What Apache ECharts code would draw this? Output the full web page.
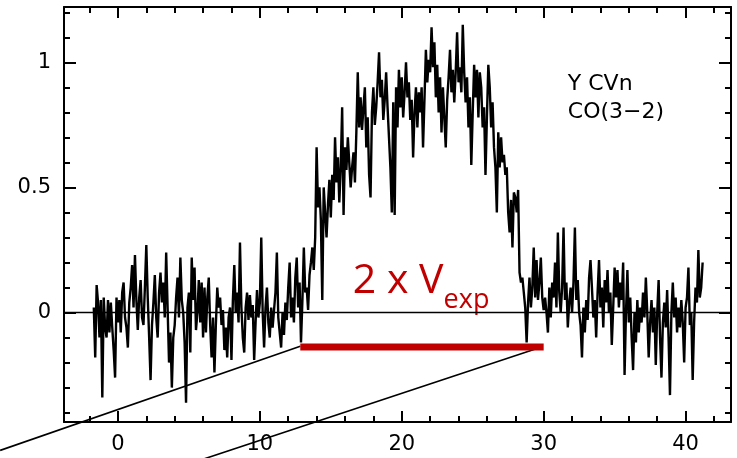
<!DOCTYPE html>
<html>
<head>
<meta charset="utf-8">
<script src="https://cdn.jsdelivr.net/npm/echarts@6/dist/echarts.min.js"></script>
<style>
  html, body { margin: 0; padding: 0; background: #ffffff; }
  #chart { width: 737px; height: 458px; }
</style>
</head>
<body>
<div id="chart"></div>
<script>
// Spectrum, channel width 0.1 km/s, split into velocity segments
const CHANNEL = 0.1;

// blue baseline, -1.7 .. 5.0 km/s
const blueBaseStart = -1.7;
const blueBase = [
  0.02, -0.18, 0.11, 0.04, -0.10, 0.05, -0.34, 0.06, -0.06, -0.10,
  0.05, -0.08, 0.04, -0.06, -0.15, -0.26, 0.06, -0.04, 0.05, -0.08,
  0.08, 0.12, -0.02, -0.06, -0.14, 0.04, 0.10, 0.19, 0.02, 0.23,
  0.05, -0.07, 0.06, 0.13, -0.02, -0.05, 0.10, 0.27, 0.06, -0.10,
  -0.27, -0.05, 0.04, 0.15, -0.02, -0.10, 0.08, 0.16, 0.04, 0.12,
  -0.02, 0.24, 0.02, -0.20, -0.08, -0.30, -0.10, -0.05, 0.06, 0.14,
  -0.02, 0.22, 0.05, 0.00, -0.12, -0.36, 0.02, 0.08
];
// blue baseline, 5.1 .. 12.5 km/s
const blueNearStart = 5.1;
const blueNear = [
  -0.16, 0.22, 0.05, 0.18, -0.07, 0.00, 0.13, -0.04, 0.12, -0.10,
  0.10, -0.08, 0.06, 0.14, -0.05, -0.18, -0.02, -0.24, -0.05, 0.10,
  0.02, 0.06, -0.05, 0.01, -0.15, -0.06, -0.18, -0.02, 0.02, -0.19,
  0.05, 0.19, 0.00, 0.08, -0.04, 0.28, 0.02, -0.10, -0.16, 0.02,
  0.08, -0.03, 0.07, -0.02, 0.03, -0.19, -0.04, 0.09, -0.02, 0.04,
  0.30, 0.00, -0.14, 0.02, 0.10, -0.04, -0.10, 0.02, -0.06, 0.01,
  0.08, 0.24, -0.02, -0.08, -0.14, 0.00, -0.09, 0.04, -0.03, 0.10,
  0.20, -0.02, 0.06, -0.04, 0.14
];
// rising line wing, 12.6 .. 19.4 km/s
const riseStart = 12.6;
const rise = [
  0.22, 0.02, 0.12, -0.12, 0.05, 0.26, 0.08, 0.10, 0.01, 0.15,
  0.20, 0.26, 0.17, 0.30, 0.66, 0.42, 0.50, 0.37, 0.05, 0.50,
  0.40, 0.30, 0.43, 0.53, 0.38, 0.55, 0.45, 0.70, 0.52, 0.62,
  0.44, 0.58, 0.82, 0.39, 0.66, 0.57, 0.70, 0.60, 0.50, 0.58,
  0.64, 0.52, 0.72, 0.96, 0.74, 0.86, 0.73, 0.82, 0.90, 0.66,
  0.78, 0.55, 0.46, 0.80, 0.90, 0.75, 0.82, 0.92, 1.04, 0.86,
  0.93, 0.77, 0.85, 0.96, 0.82, 0.70, 0.58, 0.40, 0.84
];
// line core, 19.5 .. 26.6 km/s
const coreStart = 19.5;
const core = [
  0.39, 0.90, 0.74, 0.97, 0.82, 0.94, 0.78, 0.88, 1.00, 0.86,
  0.92, 0.77, 0.85, 0.62, 0.80, 0.90, 0.74, 0.88, 0.80, 0.90,
  0.66, 0.85, 1.05, 0.92, 1.01, 0.96, 1.14, 0.98, 1.08, 0.86,
  0.99, 0.80, 0.94, 0.72, 0.90, 0.78, 0.66, 0.85, 0.94, 1.05,
  0.88, 0.97, 0.84, 0.96, 1.12, 0.92, 0.98, 0.88, 1.15, 0.96,
  0.84, 0.94, 0.74, 0.86, 0.59, 0.80, 0.99, 0.86, 0.97, 0.78,
  0.96, 0.90, 0.74, 0.82, 0.55, 0.78, 0.99, 0.90, 0.74, 0.84,
  0.66, 0.58
];
// falling wing and red baseline, 26.7 .. 33.4 km/s
const fallStart = 26.7;
const fall = [
  0.40, 0.72, 0.58, 0.70, 0.60, 0.63, 0.55, 0.58, 0.40, 0.32,
  0.45, 0.26, 0.48, 0.46, 0.40, 0.49, 0.16, 0.12, 0.14, 0.08,
  0.02, -0.12, 0.04, 0.14, 0.02, 0.10, 0.26, 0.06, 0.21, 0.05,
  0.12, 0.22, 0.06, 0.01, 0.06, 0.00, -0.08, 0.10, -0.02, 0.12,
  0.06, 0.20, 0.02, 0.32, 0.08, 0.00, 0.10, 0.34, 0.05, 0.12,
  -0.06, 0.04, 0.10, 0.00, 0.12, 0.34, 0.05, 0.13, 0.00, -0.05,
  -0.18, 0.02, -0.08, 0.05, -0.03, 0.14, 0.21, 0.10
];
// red baseline, 33.5 .. 41.2 km/s
const redBaseStart = 33.5;
const redBase = [
  -0.02, 0.05, -0.10, 0.08, 0.21, 0.02, 0.10, -0.06, 0.13, 0.04,
  0.17, 0.00, 0.08, -0.13, 0.02, 0.18, 0.06, 0.17, 0.02, 0.12,
  0.05, 0.20, -0.25, 0.00, 0.17, -0.04, 0.06, -0.10, -0.23, 0.00,
  -0.12, 0.05, -0.08, 0.02, -0.04, 0.08, -0.02, 0.14, 0.00, -0.18,
  -0.04, 0.05, -0.08, 0.02, -0.21, 0.00, 0.13, -0.10, -0.26, -0.04,
  0.04, -0.06, 0.09, -0.10, -0.33, 0.00, 0.12, -0.02, 0.06, -0.08,
  0.02, -0.06, 0.05, -0.04, -0.20, 0.02, 0.06, 0.18, -0.05, 0.00,
  -0.27, -0.04, 0.10, 0.04, 0.25, 0.06, 0.10, 0.20
];

// Axis extents and tick positions
const X_MIN = -3.8, X_MAX = 43.2;
const Y_MIN = -0.4375, Y_MAX = 1.221;
const xMajorTicks = [0, 10, 20, 30, 40];
const xMinorTicks = [-2, 2, 4, 6, 8, 12, 14, 16, 18, 22, 24, 26, 28, 32, 34, 36, 38, 42];
const yMajorTicks = [0, 0.5, 1];
const yMinorTicks = [-0.4, -0.3, -0.2, -0.1, 0.1, 0.2, 0.3, 0.4, 0.6, 0.7, 0.8, 0.9, 1.1, 1.2];

// Full-width (2 x Vexp) bar and the two guide lines running to its ends
const expansionBar = [[12.85, -0.1376], [30.0, -0.1376]];
const guideLeft = [[-8.3, -0.551], [12.85, -0.135]];
const guideRight = [[5.0, -0.605], [29.58, -0.143]];

// Source / transition annotation
const sourceLines = ['Y CVn', 'CO(3\u22122)'];

function toPoints(start, values) {
  return values.map((t, i) => [+(start + i * CHANNEL).toFixed(2), t]);
}
const spectrum = [].concat(
  toPoints(blueBaseStart, blueBase),
  toPoints(blueNearStart, blueNear),
  toPoints(riseStart, rise),
  toPoints(coreStart, core),
  toPoints(fallStart, fall),
  toPoints(redBaseStart, redBase)
);

const AXIS_FONT = { fontFamily: 'DejaVu Sans', fontSize: 21, color: '#000' };

function xAxisDef(position, ticks, len, withLine, withLabels) {
  return {
    type: 'value', min: X_MIN, max: X_MAX, position: position,
    axisLine: { show: withLine, onZero: false, lineStyle: { color: '#000', width: 2 } },
    axisTick: { show: true, inside: true, length: len, customValues: ticks,
                lineStyle: { color: '#000', width: 2 } },
    axisLabel: withLabels
      ? Object.assign({ show: true, margin: 12, customValues: ticks }, AXIS_FONT)
      : { show: false },
    splitLine: { show: false }
  };
}
function yAxisDef(position, ticks, len, withLine, withLabels) {
  return {
    type: 'value', min: Y_MIN, max: Y_MAX, position: position,
    axisLine: { show: withLine, onZero: false, lineStyle: { color: '#000', width: 2 } },
    axisTick: { show: true, inside: true, length: len, customValues: ticks,
                lineStyle: { color: '#000', width: 2 } },
    axisLabel: withLabels
      ? Object.assign({ show: true, margin: 13, customValues: ticks,
                        formatter: v => String(+v.toFixed(2)) }, AXIS_FONT)
      : { show: false },
    splitLine: { show: false }
  };
}

const chart = echarts.init(document.getElementById('chart'), null, { renderer: 'canvas' });

chart.setOption({
  animation: false,
  backgroundColor: '#ffffff',
  grid: { left: 64, right: 6, top: 7, bottom: 36, containLabel: false, outerBoundsMode: 'none' },
  xAxis: [
    xAxisDef('bottom', xMajorTicks, 11, true, true),
    xAxisDef('bottom', xMinorTicks, 6, false, false),
    xAxisDef('top', xMajorTicks, 11, true, false),
    xAxisDef('top', xMinorTicks, 6, false, false)
  ],
  yAxis: [
    yAxisDef('left', yMajorTicks, 12, true, true),
    yAxisDef('left', yMinorTicks, 6, false, false),
    yAxisDef('right', yMajorTicks, 12, true, false),
    yAxisDef('right', yMinorTicks, 6, false, false)
  ],
  series: [
    {
      name: 'zero', type: 'line', data: [[X_MIN, 0], [X_MAX, 0]],
      symbol: 'none', silent: true,
      lineStyle: { color: '#000', width: 1.5 }
    },
    {
      name: 'spectrum', type: 'line', data: spectrum,
      symbol: 'none', silent: true,
      lineStyle: { color: '#000', width: 2.4, join: 'bevel' }
    },
    {
      name: 'expansion', type: 'line', data: expansionBar,
      symbol: 'none', silent: true, z: 4,
      lineStyle: { color: '#c00000', width: 7, cap: 'butt' }
    }
  ]
});

// Guide lines and text placed through the grid's data-to-pixel mapping
function px(pt) { return chart.convertToPixel({ gridIndex: 0 }, pt); }
const pSrc1 = px([31.7, 0.913]);
const pSrc2 = px([31.7, 0.799]);
const pMain = px([16.55, 0.125]);
const pSub = px([22.95, 0.049]);

chart.setOption({
  graphic: [
    { type: 'polyline', silent: true, z: 3,
      shape: { points: guideLeft.map(px) },
      style: { stroke: '#000', lineWidth: 1.6, fill: null } },
    { type: 'polyline', silent: true, z: 3,
      shape: { points: guideRight.map(px) },
      style: { stroke: '#000', lineWidth: 1.6, fill: null } },
    { type: 'text', x: pSrc1[0], y: pSrc1[1], silent: true,
      style: { text: sourceLines[0], fill: '#000', font: '22px "DejaVu Sans"',
               align: 'left', verticalAlign: 'middle' } },
    { type: 'text', x: pSrc2[0], y: pSrc2[1], silent: true,
      style: { text: sourceLines[1], fill: '#000', font: '22px "DejaVu Sans"',
               align: 'left', verticalAlign: 'middle' } },
    { type: 'text', x: pMain[0], y: pMain[1], silent: true,
      style: { text: '2 x V', fill: '#c00000', font: '41px "Open Sans"',
               align: 'left', verticalAlign: 'middle' } },
    { type: 'text', x: pSub[0], y: pSub[1], silent: true,
      style: { text: 'exp', fill: '#c00000', font: '27px "Open Sans"',
               align: 'left', verticalAlign: 'middle' } }
  ]
});
</script>
</body>
</html>
